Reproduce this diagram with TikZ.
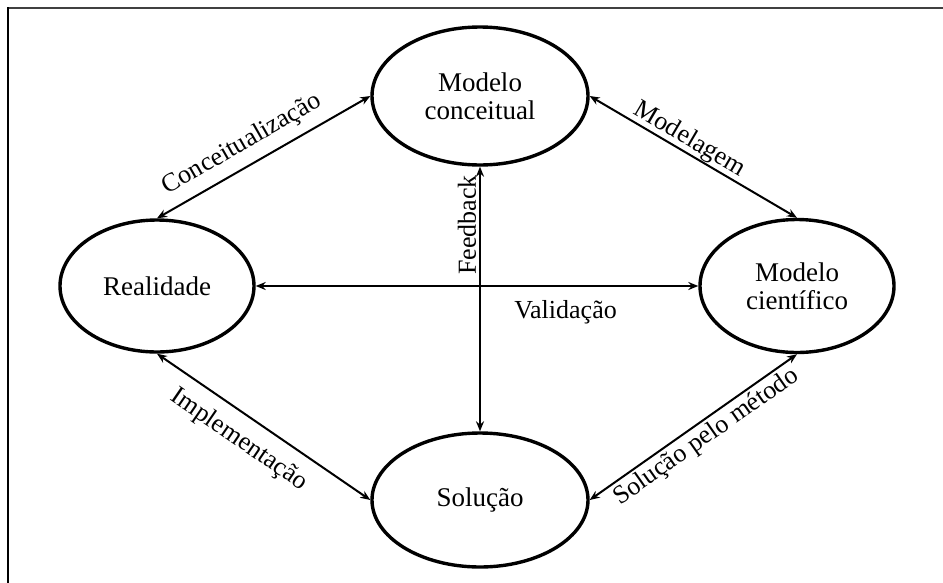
\documentclass[tikz,border=0pt]{standalone}
\usepackage{fontspec}
\setmainfont{Liberation Serif}
\usetikzlibrary{shapes.geometric,arrows.meta}
\begin{document}
\begin{tikzpicture}[x=1pt,y=-1pt,
  state/.style={ellipse,draw,line width=3.4pt,inner sep=0pt,align=center,
    font=\fontsize{27}{28}\selectfont},
  arr/.style={{Stealth[length=10pt,width=8pt]}-{Stealth[length=10pt,width=8pt]},line width=2pt},
  lab/.style={font=\fontsize{26}{28}\selectfont,inner sep=3pt}]
\clip (0,0) rectangle (943,582);
\fill[white] (0,0) rectangle (943,582);
\draw[black!75,line width=2pt] (7,8) -- (960,8);
\draw[black,line width=2.6pt] (8,7) -- (8,600);
\node[state,minimum width=216pt,minimum height=138pt] (MC) at (480,96) {Modelo\\conceitual};
\node[state,minimum width=216pt,minimum height=134pt] (S) at (480,500) {Solução};
\node[state,minimum width=194pt,minimum height=132pt] (R) at (157,286) {Realidade};
\node[state,minimum width=194pt,minimum height=133pt] (MS) at (797,286) {Modelo\\científico};
\draw[arr] (R.north) -- node[lab,sloped,above,pos=0.45,inner sep=9pt] {Conceitualização} (MC.west);
\draw[arr] (MC.east) -- node[lab,sloped,above,pos=0.45,inner sep=0pt] {Modelagem} (MS.north);
\draw[arr] (R.south) -- node[lab,sloped,below,pos=0.45,inner sep=12pt] {Implementação} (S.west);
\draw[arr] (S.east) -- node[lab,sloped,below,pos=0.52] {Solução pelo método} (MS.south);
\draw[arr] (R.east) -- node[lab,below,pos=0.70,yshift=-10pt] {Validação} (MS.west);
\draw[arr] (MC.south) -- node[lab,rotate=90,anchor=south,pos=0.22] {Feedback} (S.north);
\end{tikzpicture}
\end{document}
